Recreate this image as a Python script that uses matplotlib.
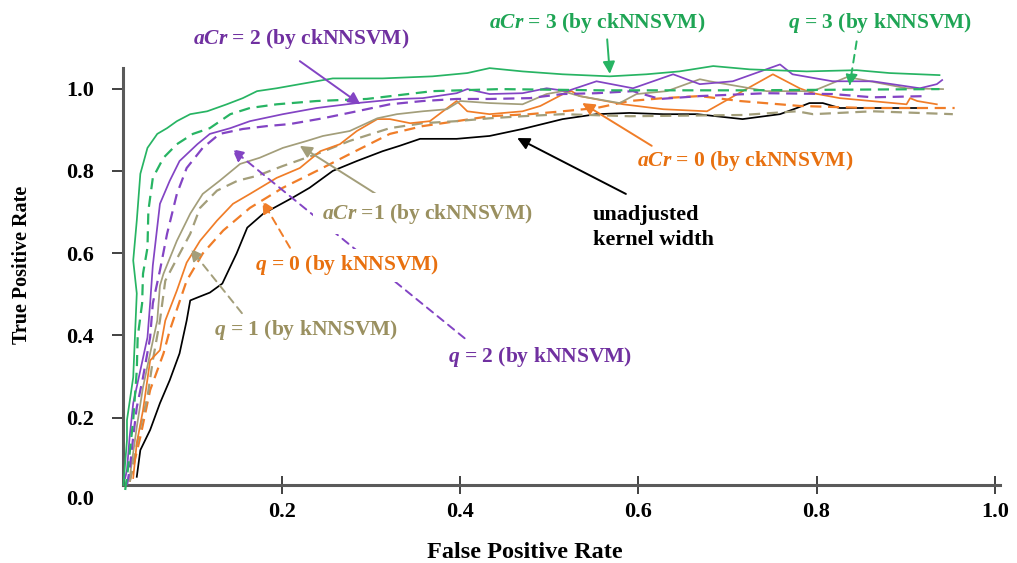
import matplotlib
matplotlib.use("Agg")
import matplotlib.pyplot as plt

# ROC points: false positive rate / true positive rate
unadj_fpr = [0.037, 0.041, 0.052, 0.063, 0.074, 0.085, 0.093, 0.097, 0.105, 0.119, 0.133, 0.149, 0.161, 0.179,
             0.212, 0.231, 0.257, 0.284, 0.313, 0.332, 0.355, 0.396, 0.433, 0.470, 0.515, 0.553, 0.590, 0.628,
             0.666, 0.717, 0.759, 0.778, 0.792, 0.807, 0.826, 0.924]
unadj_tpr = [0.056, 0.121, 0.170, 0.235, 0.291, 0.356, 0.436, 0.485, 0.492, 0.504, 0.526, 0.599, 0.662, 0.696,
             0.735, 0.759, 0.800, 0.824, 0.848, 0.861, 0.878, 0.878, 0.885, 0.902, 0.926, 0.938, 0.941, 0.938,
             0.938, 0.926, 0.938, 0.953, 0.965, 0.965, 0.953, 0.953]

acr0_fpr = [0.033, 0.037, 0.044, 0.052, 0.063, 0.069, 0.082, 0.093, 0.108, 0.127, 0.145, 0.164, 0.194, 0.220,
            0.243, 0.265, 0.284, 0.307, 0.321, 0.344, 0.366, 0.396, 0.400, 0.408, 0.433, 0.470, 0.490, 0.520,
            0.525, 0.534, 0.583, 0.628, 0.677, 0.717, 0.751, 0.781, 0.796, 0.826, 0.901, 0.905, 0.913, 0.935]
acr0_tpr = [0.053, 0.138, 0.218, 0.339, 0.364, 0.436, 0.509, 0.577, 0.630, 0.679, 0.720, 0.744, 0.783, 0.807,
            0.848, 0.865, 0.897, 0.926, 0.926, 0.916, 0.921, 0.970, 0.962, 0.945, 0.938, 0.945, 0.958, 0.992,
            0.994, 0.982, 0.962, 0.950, 0.945, 0.994, 1.035, 1.001, 0.989, 0.977, 0.962, 0.977, 0.970, 0.962]

q0_fpr = [0.029, 0.041, 0.052, 0.067, 0.074, 0.093, 0.111, 0.134, 0.164, 0.201, 0.239, 0.276, 0.321, 0.358,
          0.396, 0.433, 0.478, 0.515, 0.553, 0.590, 0.628, 0.669, 0.714, 0.781, 0.856, 0.955]
q0_tpr = [0.044, 0.153, 0.267, 0.356, 0.412, 0.533, 0.599, 0.655, 0.710, 0.759, 0.800, 0.841, 0.890, 0.909,
          0.921, 0.933, 0.938, 0.945, 0.953, 0.970, 0.977, 0.982, 0.970, 0.958, 0.953, 0.953]

acr1_fpr = [0.029, 0.037, 0.044, 0.052, 0.060, 0.063, 0.067, 0.082, 0.097, 0.111, 0.130, 0.153, 0.175, 0.201,
            0.228, 0.246, 0.276, 0.307, 0.329, 0.358, 0.385, 0.400, 0.433, 0.470, 0.497, 0.515, 0.534, 0.579,
            0.598, 0.632, 0.669, 0.680, 0.744, 0.796, 0.834, 0.848, 0.901, 0.942]
acr1_tpr = [0.053, 0.177, 0.274, 0.356, 0.436, 0.521, 0.550, 0.630, 0.696, 0.744, 0.776, 0.817, 0.832, 0.856,
            0.873, 0.885, 0.897, 0.928, 0.938, 0.945, 0.950, 0.970, 0.965, 0.962, 0.987, 0.994, 0.982, 0.965,
            0.987, 0.994, 1.023, 1.018, 0.994, 0.994, 1.028, 1.023, 1.001, 0.999]

q1_fpr = [0.029, 0.041, 0.049, 0.055, 0.063, 0.069, 0.078, 0.097, 0.108, 0.127, 0.150, 0.172, 0.201, 0.239,
          0.276, 0.321, 0.358, 0.396, 0.433, 0.470, 0.515, 0.590, 0.717, 0.778, 0.796, 0.863, 0.953]
q1_tpr = [0.044, 0.177, 0.250, 0.339, 0.436, 0.533, 0.570, 0.647, 0.710, 0.752, 0.776, 0.788, 0.812, 0.841,
          0.873, 0.904, 0.916, 0.921, 0.928, 0.933, 0.938, 0.933, 0.936, 0.945, 0.938, 0.945, 0.938]

acr2_fpr = [0.024, 0.026, 0.029, 0.033, 0.041, 0.049, 0.052, 0.055, 0.063, 0.074, 0.085, 0.105, 0.119, 0.142,
            0.164, 0.201, 0.239, 0.284, 0.332, 0.358, 0.396, 0.408, 0.433, 0.470, 0.497, 0.520, 0.553, 0.594,
            0.639, 0.669, 0.706, 0.759, 0.773, 0.818, 0.863, 0.916, 0.935, 0.941]
acr2_tpr = [0.053, 0.073, 0.153, 0.235, 0.315, 0.395, 0.478, 0.570, 0.720, 0.776, 0.824, 0.865, 0.890, 0.904,
            0.921, 0.938, 0.953, 0.965, 0.975, 0.977, 0.989, 0.999, 0.987, 0.989, 1.001, 0.994, 1.018, 1.001,
            1.035, 1.011, 1.018, 1.059, 1.035, 1.018, 1.018, 1.001, 1.011, 1.021]

q2_fpr = [0.026, 0.029, 0.033, 0.037, 0.044, 0.052, 0.055, 0.063, 0.071, 0.082, 0.093, 0.111, 0.130, 0.156,
          0.183, 0.209, 0.246, 0.284, 0.321, 0.358, 0.396, 0.433, 0.478, 0.515, 0.553, 0.594, 0.624, 0.669,
          0.744, 0.818, 0.863, 0.924]
q2_tpr = [0.036, 0.073, 0.153, 0.225, 0.298, 0.395, 0.478, 0.558, 0.647, 0.744, 0.807, 0.856, 0.890, 0.902,
          0.909, 0.914, 0.928, 0.945, 0.962, 0.970, 0.975, 0.975, 0.977, 0.987, 0.989, 0.994, 0.975, 0.982,
          0.989, 0.987, 0.979, 0.982]

acr3_fpr = [0.022, 0.026, 0.026, 0.033, 0.037, 0.033, 0.037, 0.041, 0.049, 0.060, 0.071, 0.082, 0.097, 0.116,
            0.138, 0.156, 0.172, 0.194, 0.220, 0.257, 0.313, 0.369, 0.408, 0.433, 0.470, 0.515, 0.568, 0.609,
            0.646, 0.684, 0.725, 0.789, 0.845, 0.882, 0.938]
acr3_tpr = [0.036, 0.145, 0.194, 0.298, 0.502, 0.582, 0.679, 0.793, 0.856, 0.890, 0.904, 0.921, 0.938, 0.945,
            0.962, 0.977, 0.994, 1.001, 1.011, 1.025, 1.025, 1.030, 1.038, 1.050, 1.042, 1.035, 1.030, 1.035,
            1.042, 1.055, 1.047, 1.042, 1.045, 1.038, 1.033]

q3_fpr = [0.024, 0.027, 0.033, 0.037, 0.038, 0.043, 0.044, 0.049, 0.050, 0.055, 0.067, 0.082, 0.100, 0.119,
          0.142, 0.164, 0.194, 0.239, 0.295, 0.369, 0.445, 0.557, 0.717, 0.938]
q3_tpr = [0.024, 0.073, 0.194, 0.315, 0.395, 0.478, 0.550, 0.613, 0.703, 0.783, 0.832, 0.865, 0.890, 0.904,
          0.938, 0.953, 0.962, 0.970, 0.975, 0.994, 0.999, 0.996, 0.996, 0.999]

x_ticks = [0.2, 0.4, 0.6, 0.8, 1.0]
y_ticks = [0.2, 0.4, 0.6, 0.8, 1.0]

GREEN = "#27b463"
PURPLE = "#8344c4"
ORANGE = "#f07d28"
KHAKI = "#a39e7a"
GREEN_T = "#1fa555"
PURPLE_T = "#7030a0"
ORANGE_T = "#e8700f"
KHAKI_T = "#9a9060"

plt.rcParams["font.family"] = ["Liberation Serif", "DejaVu Serif"]
plt.rcParams["font.weight"] = "bold"
plt.rcParams["axes.labelweight"] = "bold"
plt.rcParams["mathtext.fontset"] = "custom"
plt.rcParams["mathtext.it"] = "Liberation Serif:italic:bold"
plt.rcParams["mathtext.rm"] = "Liberation Serif:bold"
plt.rcParams["mathtext.bf"] = "Liberation Serif:bold"

fig = plt.figure(figsize=(10.17, 5.63), dpi=100)
ax = fig.add_axes([0.121, 0.1385, 0.862, 0.7405])

dash = (0, (5, 3))
curves = [
    (unadj_fpr, unadj_tpr, "black", "-"),
    (q0_fpr, q0_tpr, ORANGE, dash),
    (q1_fpr, q1_tpr, KHAKI, dash),
    (acr0_fpr, acr0_tpr, ORANGE, "-"),
    (acr1_fpr, acr1_tpr, KHAKI, "-"),
    (q2_fpr, q2_tpr, PURPLE, dash),
    (acr2_fpr, acr2_tpr, PURPLE, "-"),
    (q3_fpr, q3_tpr, GREEN, dash),
    (acr3_fpr, acr3_tpr, GREEN, "-"),
]
for fpr, tpr, col, ls in curves:
    lw = 1.6 if ls == dash else 1.25
    ax.plot(fpr, tpr, color=col, linestyle=ls, linewidth=lw, clip_on=False, zorder=3)

ax.set_xlim(0.0216, 1.0056)
ax.set_ylim(0.036, 1.05)
ax.set_xticks(x_ticks)
ax.set_xticklabels(["%.1f" % v for v in x_ticks])
ax.set_yticks(y_ticks)
ax.set_yticklabels(["%.1f" % v for v in y_ticks])
ax.tick_params(axis="x", direction="inout", length=13, width=1.3, color="#333333", pad=6, labelsize=16)
ax.tick_params(axis="y", direction="out", length=8, width=1.3, color="#333333", pad=13, labelsize=16)
ax.annotate("0.0", xy=(0, 0), xycoords=("axes fraction", "data"), xytext=(-21, 0),
            textcoords="offset points", ha="right", va="center", fontsize=16, annotation_clip=False)

for side in ["top", "right"]:
    ax.spines[side].set_visible(False)
for side in ["left", "bottom"]:
    ax.spines[side].set_color("#5a5a5a")
    ax.spines[side].set_linewidth(2.2)

ax.set_xlabel("False Positive Rate", fontsize=17.5, va="center")
ax.xaxis.set_label_coords(0.458, -0.163)
ax.set_ylabel("True Positive Rate", fontsize=14.5, va="center")
ax.yaxis.set_label_coords(-0.115, 0.528)


def arrow(tail, head, col, dashed=False):
    ax.annotate("", xy=head, xytext=tail, annotation_clip=False, zorder=4,
                arrowprops=dict(arrowstyle="-|>", color=col, lw=1.4, mutation_scale=18,
                                linestyle=(0, (4, 3)) if dashed else "-", shrinkA=0, shrinkB=0))


def label(x, y, txt, col, pad=0.1, ha="center"):
    ax.text(x, y, txt, color=col, fontsize=15.5, ha=ha, va="center", zorder=5, clip_on=False,
            bbox=dict(facecolor="white", edgecolor="none", pad=pad))


arrow((0.220, 1.067), (0.288, 0.962), PURPLE)
arrow((0.565, 1.120), (0.568, 1.036), GREEN)
arrow((0.845, 1.115), (0.837, 1.006), GREEN, dashed=True)
arrow((0.615, 0.861), (0.537, 0.965), ORANGE)
arrow((0.586, 0.744), (0.464, 0.880), "black")
arrow((0.312, 0.735), (0.220, 0.861), KHAKI)
arrow((0.209, 0.613), (0.178, 0.727), ORANGE, dashed=True)
arrow((0.155, 0.454), (0.097, 0.611), KHAKI, dashed=True)
arrow((0.405, 0.393), (0.144, 0.853), PURPLE, dashed=True)

label(0.222, 1.120, r"$aCr$ = 2 (by ckNNSVM)", PURPLE_T)
label(0.554, 1.159, r"$aCr$ = 3 (by ckNNSVM)", GREEN_T)
label(0.871, 1.159, r"$q$ = 3 (by kNNSVM)", GREEN_T)
label(0.720, 0.824, r"$aCr$ = 0 (by ckNNSVM)", ORANGE_T)
label(0.363, 0.696, r"$aCr$ =1 (by ckNNSVM)", KHAKI_T, pad=6)
label(0.273, 0.570, r"$q$ = 0 (by kNNSVM)", ORANGE_T, pad=3)
label(0.227, 0.412, r"$q$ = 1 (by kNNSVM)", KHAKI_T)
label(0.490, 0.347, r"$q$ = 2 (by kNNSVM)", PURPLE_T)
ax.text(0.549, 0.662, "unadjusted\nkernel width", color="black", fontsize=16, ha="left",
        va="center", linespacing=1.3, zorder=5)

fig.savefig("out.png", dpi=100)
